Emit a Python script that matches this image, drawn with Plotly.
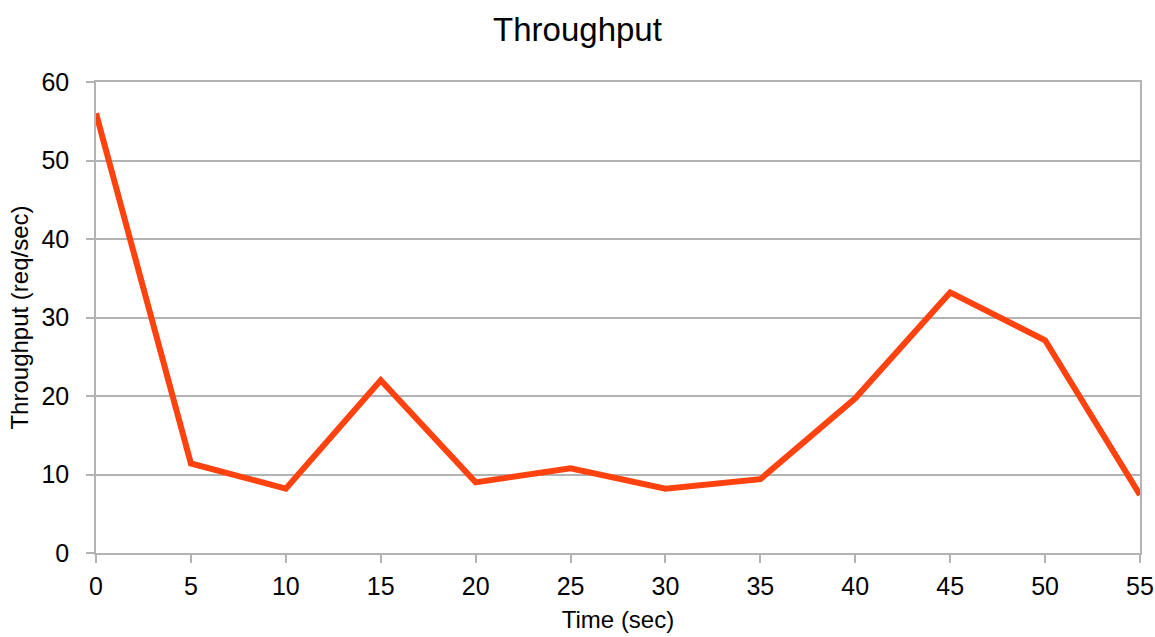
import plotly.graph_objects as go

time_sec = [0, 5, 10, 15, 20, 25, 30, 35, 40, 45, 50, 55]
throughput = [56.0, 11.4, 8.2, 22.0, 9.0, 10.8, 8.2, 9.4, 19.7, 33.2, 27.1, 7.4]
x_ticks = [0, 5, 10, 15, 20, 25, 30, 35, 40, 45, 50, 55]
y_ticks = [0, 10, 20, 30, 40, 50, 60]

GRID = "#b3b3b3"
FONT = "Liberation Sans, Arial, sans-serif"

fig = go.Figure(
    go.Scatter(
        x=time_sec,
        y=throughput,
        mode="lines",
        line=dict(color="#ff420e", width=6),
        hoverinfo="x+y",
    )
)

fig.update_layout(
    width=1155,
    height=637,
    margin=dict(l=96, r=15, t=82, b=84, autoexpand=False),
    paper_bgcolor="white",
    plot_bgcolor="white",
    showlegend=False,
    font=dict(family=FONT, color="black", size=25),
    title=dict(
        text="Throughput",
        x=0.5,
        xanchor="center",
        y=0.953,
        yanchor="middle",
        font=dict(family=FONT, size=33, color="black"),
    ),
)

fig.update_xaxes(
    range=[0, 55],
    tickvals=x_ticks,
    ticktext=[str(v) for v in x_ticks],
    ticks="outside",
    ticklen=8,
    tickwidth=1.5,
    tickcolor=GRID,
    showgrid=False,
    showline=True,
    linecolor=GRID,
    linewidth=1.5,
    mirror=True,
    zeroline=False,
    automargin=False,
    tickfont=dict(size=25),
    ticklabelstandoff=2,
    title=dict(text="Time (sec)", font=dict(size=24), standoff=12),
)

fig.update_yaxes(
    range=[0, 60],
    tickvals=y_ticks,
    ticktext=[str(v) for v in y_ticks],
    ticks="outside",
    ticklen=8,
    tickwidth=1.5,
    tickcolor=GRID,
    showgrid=True,
    gridcolor=GRID,
    gridwidth=1.5,
    showline=True,
    linecolor=GRID,
    linewidth=1.5,
    mirror=True,
    zeroline=False,
    automargin=False,
    tickfont=dict(size=25),
    ticklabelstandoff=12,
    title=dict(text="Throughput (req/sec)", font=dict(size=24), standoff=6),
)

fig.write_html("out.html")
